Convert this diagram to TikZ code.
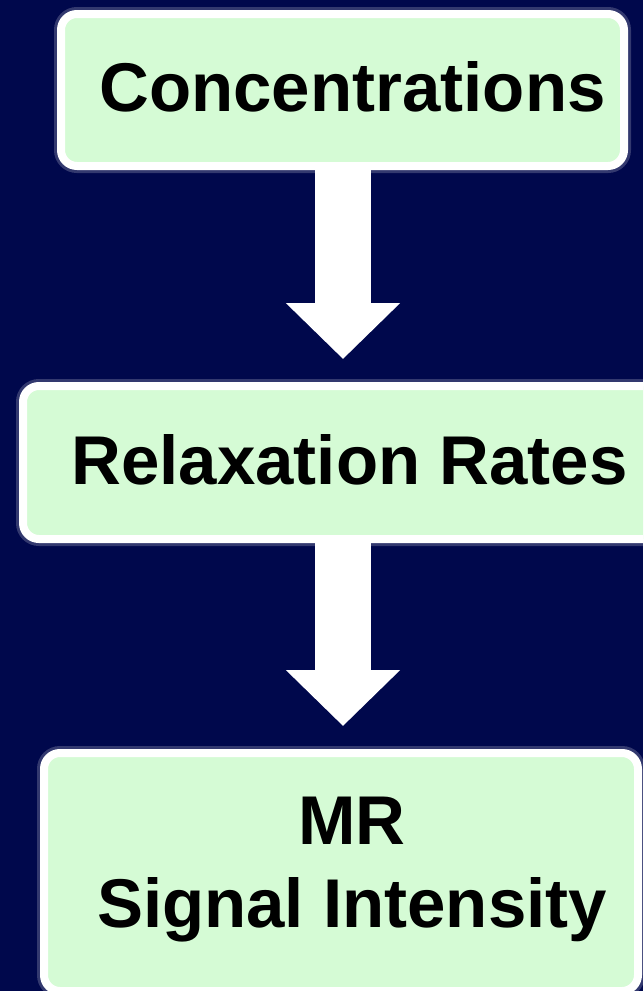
\documentclass[tikz,border=0pt]{standalone}
\usepackage{fontspec}
\setmainfont{Liberation Sans}
\usepackage{tikz}
\usetikzlibrary{positioning,arrows.meta,calc}
\definecolor{bgnavy}{RGB}{0,8,76}
\definecolor{stagegreen}{RGB}{213,251,213}
\tikzset{
  stage/.style={draw=white, line width=8pt, fill=stagegreen, rounded corners=16pt, inner sep=0pt,
    preaction={draw=white, draw opacity=0.2, line width=14pt}},
  stagetext/.style={font=\fontsize{69}{83}\selectfont\bfseries, text=black, align=center, inner sep=0pt},
  blockflow/.style={draw=white, line width=56pt, -{Triangle[width=111pt, length=56pt]}},
}

\begin{document}
\begin{tikzpicture}[x=1pt, y=-1pt]
\useasboundingbox (0,0) rectangle (643,991);
\fill[bgnavy] (0,0) rectangle (643,991);
\clip (0,0) rectangle (643,991);
\node[stage, minimum width=563pt, minimum height=152pt,
  label={[stagetext, xshift=10pt, yshift=3pt]center:Concentrations}] (conc) at (342.5,90) {};
\node[stage, minimum width=653pt, minimum height=153pt,
  label={[stagetext, yshift=3pt]center:Relaxation Rates}] (relax) at (349.5,462.5) {};
\node[stage, minimum width=594pt, minimum height=238pt,
  label={[stagetext, xshift=11pt, yshift=2pt]center:MR\\Signal Intensity}] (signal) at (341,872) {};
\coordinate (axis) at (343,0);
\draw[blockflow] (axis |- conc.south) -- ($(axis |- relax.north)+(0,-23)$);
\draw[blockflow] (axis |- relax.south) -- ($(axis |- signal.north)+(0,-23)$);
\end{tikzpicture}
\end{document}
